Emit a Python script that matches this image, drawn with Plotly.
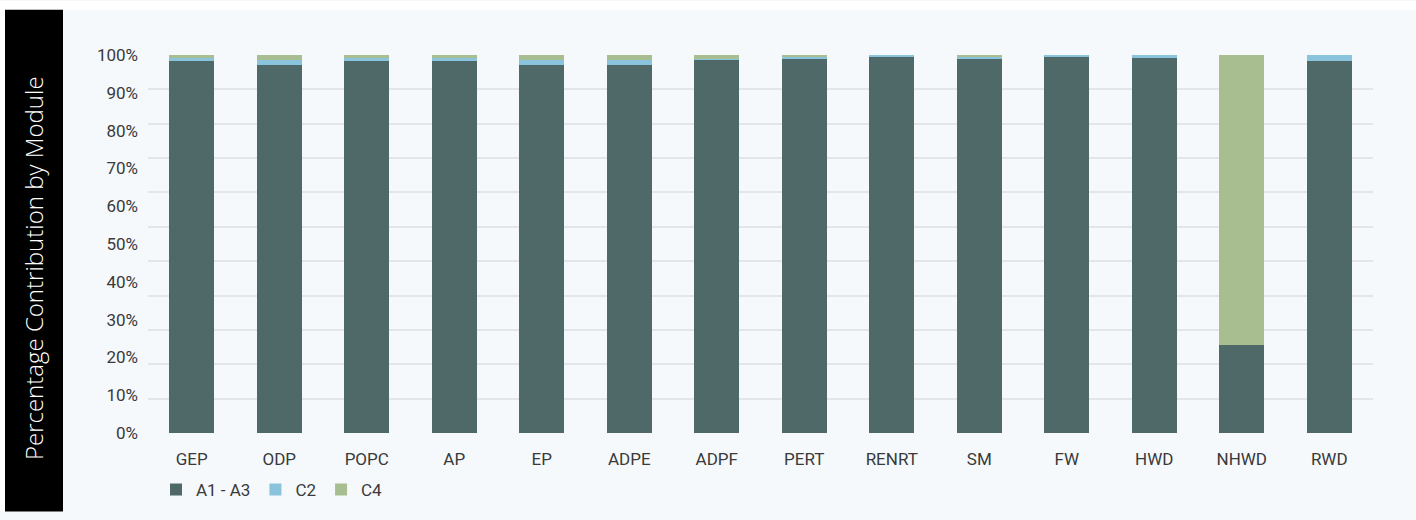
import plotly.graph_objects as go

categories = ["GEP", "ODP", "POPC", "AP", "EP", "ADPE", "ADPF", "PERT", "RENRT", "SM", "FW", "HWD", "NHWD", "RWD"]
a1_a3 = [98.4, 97.4, 98.4, 98.4, 97.4, 97.4, 98.7, 99.0, 99.5, 99.0, 99.5, 99.2, 23.4, 98.4]
c2 = [0.7, 1.2, 0.7, 0.7, 1.2, 1.2, 0.3, 0.5, 0.5, 0.5, 0.5, 0.8, 0.0, 1.6]
c4 = [0.9, 1.4, 0.9, 0.9, 1.4, 1.4, 1.0, 0.5, 0.0, 0.5, 0.0, 0.0, 76.6, 0.0]
y_tick_vals = [0, 10, 20, 30, 40, 50, 60, 70, 80, 90, 100]
y_tick_text = ["0%", "10%", "20%", "30%", "40%", "50%", "60%", "70%", "80%", "90%", "100%"]

FONT = "Roboto"
TXT = "#3a3a3a"

W, H = 1416, 520
L, R, T, B = 148, 43, 55, 80
PW, PH = W - L - R, H - T - B


def px(x):
    return (x - L) / PW


def py(y):
    return (H - B - y) / PH


fig = go.Figure()
fig.add_trace(go.Bar(name="A1 - A3", x=categories, y=a1_a3, marker=dict(color="#4F6868", line=dict(width=0))))
fig.add_trace(go.Bar(name="C2", x=categories, y=c2, marker=dict(color="#8AC3DC", line=dict(width=0))))
fig.add_trace(go.Bar(name="C4", x=categories, y=c4, marker=dict(color="#A8BE90", line=dict(width=0))))

fig.update_layout(
    barmode="stack",
    bargap=0.486,
    width=W,
    height=H,
    margin=dict(l=L, r=R, t=T, b=B),
    paper_bgcolor="#F5F9FC",
    plot_bgcolor="rgba(0,0,0,0)",
    font=dict(family=FONT, size=17, color=TXT),
    showlegend=True,
    legend=dict(
        orientation="h",
        x=px(156),
        xanchor="left",
        y=py(498),
        yanchor="middle",
        bgcolor="rgba(0,0,0,0)",
        font=dict(family=FONT, size=17, color=TXT),
        traceorder="normal",
    ),
    shapes=[
        dict(type="rect", xref="paper", yref="paper", x0=px(0), x1=px(W),
             y0=py(9), y1=py(0), fillcolor="white", line=dict(width=0), layer="below"),
        dict(type="rect", xref="paper", yref="paper", x0=px(0), x1=px(5),
             y0=py(H), y1=py(0), fillcolor="white", line=dict(width=0), layer="below"),
        dict(type="rect", xref="paper", yref="paper", x0=px(5), x1=px(63),
             y0=py(H), y1=py(9), fillcolor="black", line=dict(width=0), layer="below"),
    ],
    annotations=[
        dict(text="Percentage Contribution by Module", xref="paper", yref="paper",
             x=px(33), y=py(272), xanchor="center", yanchor="middle",
             textangle=-90, showarrow=False,
             font=dict(family="Open Sans", size=24, color="white", weight=300)),
    ],
)

fig.update_xaxes(
    showgrid=False,
    showline=False,
    zeroline=False,
    ticks="",
    ticklabelstandoff=14,
    tickfont=dict(family=FONT, size=17, color=TXT),
)
fig.update_yaxes(
    range=[0, 100],
    tickmode="array",
    tickvals=y_tick_vals,
    ticktext=y_tick_text,
    showgrid=False,
    zeroline=False,
    showline=False,
    ticks="",
    ticklabelstandoff=9,
    tickfont=dict(family=FONT, size=17, color=TXT),
    minor=dict(tickmode="linear", tick0=0, dtick=100 / 11, showgrid=True,
               gridcolor="#E3E5E8", gridwidth=1.5, ticks=""),
)

fig.write_html(
    "out.html",
    config={"displayModeBar": False},
    post_script="document.body.style.margin='0';document.body.style.overflow='hidden';",
)
